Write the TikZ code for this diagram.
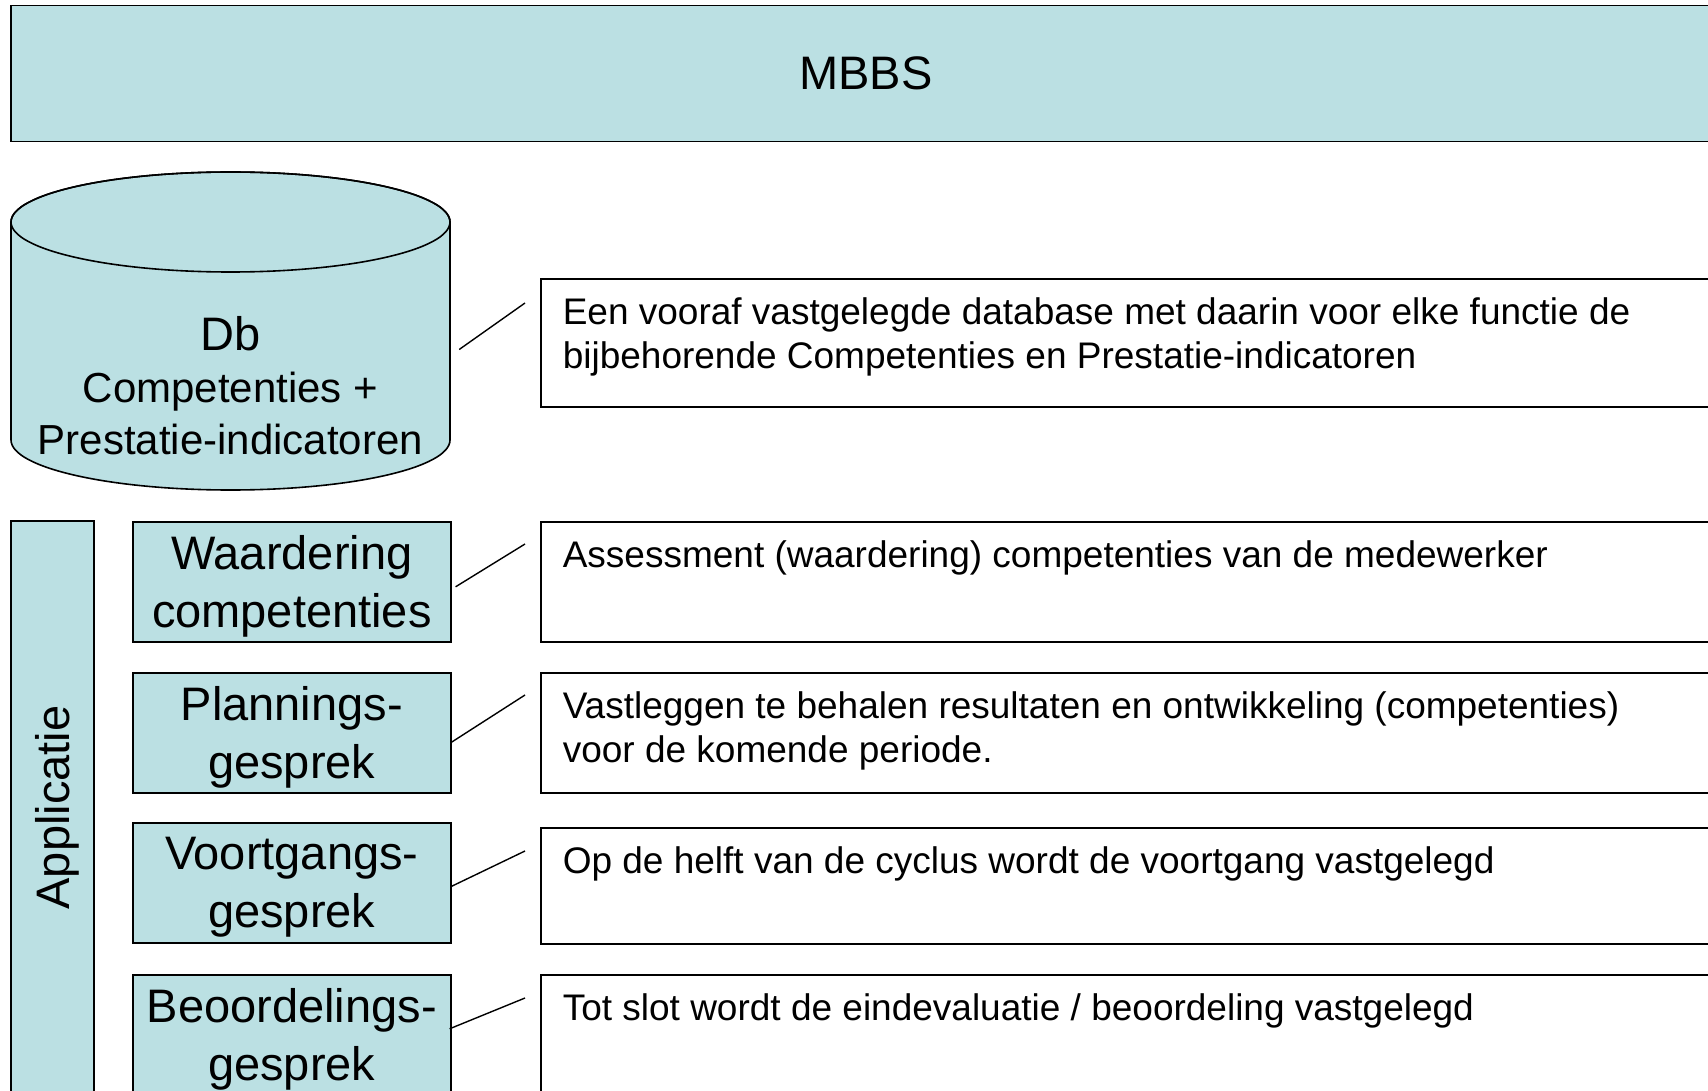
\documentclass[tikz,border=0pt]{standalone}
\usepackage{fontspec}
\setmainfont{Liberation Sans}
\usetikzlibrary{positioning}
\definecolor{boxfill}{RGB}{187,224,227}
\newcommand{\largetext}{\fontsize{47}{58}\selectfont}
\newcommand{\desctext}{\fontsize{37}{44}\selectfont}
\newcommand{\descpar}[2]{\parbox[t][#1][t]{1137pt}{\raggedright\strut #2}}

\begin{document}
\begin{tikzpicture}[x=1pt,y=-1pt,
  tealbox/.style={draw,line width=1.6pt,fill=boxfill,inner sep=0pt,align=center,text depth=0pt,font=\largetext},
  stagebox/.style={tealbox,minimum width=318pt,minimum height=120pt,anchor=north west},
  descbox/.style={draw,line width=1.6pt,inner xsep=22pt,inner ysep=15pt,anchor=north west,font=\desctext},
  link/.style={line width=1.4pt}]
\useasboundingbox (0,0) rectangle (1708,1091);
\node[tealbox,minimum width=1710pt,minimum height=136pt] (mbbs) at (866,73.5) {MBBS};
% database
\filldraw[fill=boxfill,line width=1.6pt] (11,222) -- (11,440)
  arc[start angle=180,end angle=360,x radius=219.5pt,y radius=50pt] -- (450,222)
  arc[start angle=0,end angle=180,x radius=219.5pt,y radius=50pt] -- cycle;
\draw[line width=1.6pt] (230.5,222) ellipse[x radius=219.5pt,y radius=50pt];
\node[align=center,minimum width=439pt,inner sep=0pt,font=\fontsize{42}{52}\selectfont] (db) at (230.5,385.5)
  {{\fontsize{47}{52}\selectfont Db}\\Competenties +\\Prestatie-indicatoren};
\node[descbox] (d1) at (540,278) {\descpar{98pt}{Een vooraf vastgelegde database met daarin voor elke functie de\\bijbehorende Competenties en Prestatie-indicatoren}};
% applicatie
\node[tealbox,rotate=90,minimum width=573pt,minimum height=83pt] (app) at (52.5,807.5) {Applicatie};
\node[stagebox] (wc) at (132,521) {Waardering\\competenties};
\node[stagebox] (pg) at (132,672) {Plannings-\\gesprek};
\node[stagebox] (vg) at (132,822) {Voortgangs-\\gesprek};
\node[stagebox] (bg) at (132,974) {Beoordelings-\\gesprek};
\node[descbox] (wd) at (540,521) {\descpar{90pt}{Assessment (waardering) competenties van de medewerker}};
\node[descbox] (pd) at (540,672) {\descpar{90pt}{Vastleggen te behalen resultaten en ontwikkeling (competenties)\\voor de komende periode.}};
\node[descbox] (vd) at (540,827) {\descpar{86pt}{Op de helft van de cyclus wordt de voortgang vastgelegd}};
\node[descbox] (bd) at (540,974) {\descpar{90pt}{Tot slot wordt de eindevaluatie / beoordeling vastgelegd}};
\path[link]
  ([xshift=9pt,yshift=36pt]db.east) edge ([xshift=-15pt,yshift=-25pt]d1.north west)
  ([xshift=4pt,yshift=-5pt]wc.east) edge ([xshift=-15pt,yshift=-23pt]wd.north west)
  ([xshift=-1pt,yshift=-10pt]pg.east) edge ([xshift=-15pt,yshift=-23pt]pd.north west)
  ([yshift=-3.5pt]vg.east) edge ([xshift=-15pt,yshift=-24pt]vd.north west)
  ([xshift=-2pt,yshift=6pt]bg.east) edge ([xshift=-15pt,yshift=-24pt]bd.north west);
\end{tikzpicture}
\end{document}
